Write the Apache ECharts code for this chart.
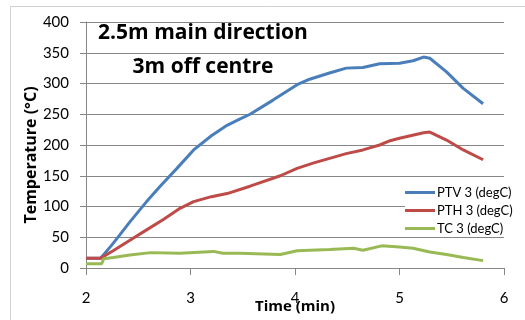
<!DOCTYPE html>
<html>
<head>
<meta charset="utf-8">
<script src="https://cdn.jsdelivr.net/npm/echarts@6/dist/echarts.min.js"></script>
<style>
  html, body { margin: 0; padding: 0; background: #ffffff; }
  #chart { width: 525px; height: 320px; }
</style>
</head>
<body>
<div id="chart"></div>
<script>
// Time axis samples (min) and temperatures (degC) for each probe
const ptvTime = [2.00, 2.14, 2.26, 2.42, 2.58, 2.71, 2.87, 3.03, 3.20, 3.35, 3.47, 3.57, 3.79, 4.02, 4.14, 4.33, 4.49, 4.65, 4.81, 5.00, 5.13, 5.23, 5.29, 5.45, 5.61, 5.80];
const ptvTemp = [16, 16, 40, 75, 108, 133, 162, 192, 215, 232, 242, 250, 273, 298, 307, 317, 325, 326, 332, 333, 337, 343, 341, 319, 292, 267];

const pthTime = [2.00, 2.14, 2.26, 2.42, 2.58, 2.74, 2.90, 3.03, 3.20, 3.35, 3.57, 3.86, 4.02, 4.18, 4.49, 4.65, 4.81, 4.91, 5.00, 5.23, 5.29, 5.45, 5.61, 5.80];
const pthTemp = [16, 16, 28, 45, 62, 79, 97, 108, 116, 121, 133, 150, 162, 171, 186, 192, 200, 207, 211, 220, 221, 208, 192, 176];

const tcTime = [2.00, 2.15, 2.17, 2.26, 2.42, 2.62, 2.90, 3.22, 3.31, 3.47, 3.86, 4.02, 4.33, 4.56, 4.65, 4.83, 5.00, 5.13, 5.29, 5.45, 5.61, 5.80];
const tcTemp = [7, 7, 15, 17, 21, 25, 24, 27, 24, 24, 22, 28, 30, 32, 29, 36, 34, 32, 26, 22, 17, 12];

const seriesNames = ['PTV 3 (degC)', 'PTH 3 (degC)', 'TC 3 (degC)'];
const seriesColors = ['#4A7EBB', '#BE4B48', '#98B954'];

const xTicks = [2, 3, 4, 5, 6];
const yTicks = [0, 50, 100, 150, 200, 250, 300, 350, 400];

const zip = (xs, ys) => xs.map((x, i) => [x, ys[i]]);
const seriesData = [zip(ptvTime, ptvTemp), zip(pthTime, pthTemp), zip(tcTime, tcTemp)];

const FONT = 'Lato, "Liberation Sans", sans-serif';
const BOLD_FONT = '"Open Sans", Lato, sans-serif';
const axisGray = '#868686';

const chart = echarts.init(document.getElementById('chart'), null, { renderer: 'canvas' });

chart.setOption({
  animation: false,
  backgroundColor: '#ffffff',
  textStyle: { fontFamily: FONT },
  graphic: [
    {
      type: 'rect',
      shape: { x: 10.5, y: 6.5, width: 530, height: 330 },
      style: { fill: 'none', stroke: '#d0d0d0', lineWidth: 1 },
      z: -1
    },
    {
      type: 'text',
      x: 203, y: 33,
      style: {
        text: '2.5m main direction',
        font: 'bold 21px ' + BOLD_FONT,
        fill: '#000000',
        align: 'center',
        verticalAlign: 'middle'
      },
      z: 10
    },
    {
      type: 'text',
      x: 203, y: 67,
      style: {
        text: '3m off centre',
        font: 'bold 21px ' + BOLD_FONT,
        fill: '#000000',
        align: 'center',
        verticalAlign: 'middle'
      },
      z: 10
    }
  ],
  grid: { left: 86, right: 21, top: 22, bottom: 52, containLabel: false, outerBoundsMode: 'none' },
  legend: {
    orient: 'vertical',
    left: 405,
    top: 184,
    itemWidth: 30,
    itemHeight: 3,
    itemGap: 5,
    icon: 'rect',
    backgroundColor: '#ffffff',
    padding: [2, 4, 2, 0],
    textStyle: { fontSize: 13, color: '#000000', fontFamily: FONT, padding: [0, 0, 0, -3] },
    data: seriesNames
  },
  xAxis: {
    type: 'value',
    min: xTicks[0],
    max: xTicks[xTicks.length - 1],
    interval: 1,
    name: 'Time (min)',
    nameLocation: 'middle',
    nameGap: 31,
    nameMoveOverlap: false,
    nameTextStyle: { fontSize: 15, fontWeight: 'bold', color: '#000000', fontFamily: BOLD_FONT },
    axisLine: { show: true, lineStyle: { color: axisGray, width: 1 } },
    axisTick: { show: true, length: 7, lineStyle: { color: axisGray } },
    axisLabel: { fontSize: 15, color: '#000000', margin: 23, fontFamily: FONT },
    splitLine: { show: false }
  },
  yAxis: {
    type: 'value',
    min: yTicks[0],
    max: yTicks[yTicks.length - 1],
    interval: 50,
    name: 'Temperature (°C)',
    nameLocation: 'middle',
    nameGap: 47,
    nameRotate: 90,
    nameMoveOverlap: false,
    nameTextStyle: { fontSize: 16, fontWeight: 'bold', color: '#000000', fontFamily: BOLD_FONT, padding: [0, 20, 0, 0] },
    axisLine: { show: true, lineStyle: { color: axisGray, width: 1 } },
    axisTick: { show: true, length: 6, lineStyle: { color: axisGray } },
    axisLabel: { fontSize: 15, color: '#000000', margin: 17, fontFamily: FONT },
    splitLine: { show: true, lineStyle: { color: axisGray, width: 1 } }
  },
  series: seriesNames.map((name, i) => ({
    name: name,
    type: 'line',
    data: seriesData[i],
    showSymbol: false,
    symbol: 'none',
    lineStyle: { color: seriesColors[i], width: 3 },
    itemStyle: { color: seriesColors[i] },
    z: 3
  }))
});
</script>
</body>
</html>
